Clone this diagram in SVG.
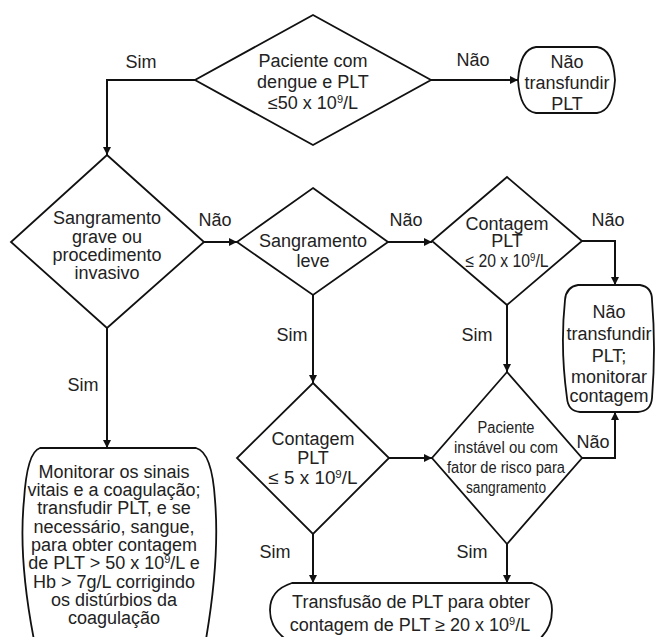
<svg xmlns="http://www.w3.org/2000/svg" width="655" height="637" viewBox="0 0 655 637">
<defs>
<marker id="ah" viewBox="0 0 10 10" refX="10" refY="5" markerWidth="9" markerHeight="8" orient="auto" markerUnits="userSpaceOnUse"><path d="M0,0 L10,5 L0,10 z" fill="#111"/></marker>
<style>
.s{fill:#fff;stroke:#111;stroke-width:1.8}
.c{fill:none;stroke:#111;stroke-width:2;marker-end:url(#ah)}
text{font-family:"Liberation Sans",Arial,sans-serif;font-size:18px;fill:#222;text-anchor:middle}
.sm{font-size:16px}
.sup{font-size:11px}
</style>
</defs>
<rect width="655" height="637" fill="#fff"/>
<g id="connectors">
<path class="c" d="M195,80 H107 V155"/>
<path class="c" d="M430,80 H518"/>
<path class="c" d="M204,242 H237"/>
<path class="c" d="M387,242 H432"/>
<path class="c" d="M582,241 H615 V285"/>
<path class="c" d="M313,295 V383"/>
<path class="c" d="M507,305 V372"/>
<path class="c" d="M107,328 V448"/>
<path class="c" d="M389,458 H432"/>
<path class="c" d="M582,458 H615 V412"/>
<path class="c" d="M313,534 V583"/>
<path class="c" d="M507,544 V583"/>
<text x="141" y="68">Sim</text>
<text x="473" y="66">Não</text>
<text x="215" y="226">Não</text>
<text x="406" y="226">Não</text>
<text x="608" y="226">Não</text>
<text x="292" y="341">Sim</text>
<text x="477" y="341">Sim</text>
<text x="83" y="391">Sim</text>
<text x="593" y="448">Não</text>
<text x="275" y="558">Sim</text>
<text x="472" y="558">Sim</text>
</g>
<g id="n1">
<polygon class="s" points="313,15 431,80 313,145 195,80"/>
<text x="313" y="67">Paciente com</text>
<text x="313" y="88">dengue e PLT</text>
<text x="313" y="109">≤50 x 10<tspan class="sup" dy="-6">9</tspan><tspan dy="6">/L</tspan></text>
</g>
<g id="n2">
<path class="s" d="M536,47 H597 Q613,49 615,80 Q613,111 597,113 H536 Q520,111 518,80 Q520,49 536,47 Z"/>
<text x="567" y="68">Não</text>
<text x="567" y="89">transfundir</text>
<text x="567" y="110">PLT</text>
</g>
<g id="n3">
<polygon class="s" points="107,155 204,242 107,328 11,242"/>
<text x="107" y="224">Sangramento</text>
<text x="107" y="243">grave ou</text>
<text x="107" y="261">procedimento</text>
<text x="107" y="279">invasivo</text>
</g>
<g id="n4">
<polygon class="s" points="313,188 388,242 313,295 237,242"/>
<text x="313" y="247">Sangramento</text>
<text x="313" y="267">leve</text>
</g>
<g id="n5">
<polygon class="s" points="507,177 582,241 507,305 432,241"/>
<text x="507" y="230">Contagem</text>
<text x="507" y="247">PLT</text>
<text x="507" y="267" textLength="83" lengthAdjust="spacingAndGlyphs">≤ 20 x 10<tspan class="sup" dy="-6">9</tspan><tspan dy="6">/L</tspan></text>
</g>
<g id="n6">
<path class="s" d="M578,285 H640 Q652,287 652,300 Q656,348 652,398 Q651,411 638,412 H580 Q568,411 567,398 Q560,348 565,300 Q566,287 578,285 Z"/>
<text x="609" y="318">Não</text>
<text x="609" y="340">transfundir</text>
<text x="609" y="362">PLT;</text>
<text x="609" y="383">monitorar</text>
<text x="609" y="402">contagem</text>
</g>
<g id="n7">
<polygon class="s" points="313,383 389,458 313,534 237,458"/>
<text x="313" y="445">Contagem</text>
<text x="313" y="464">PLT</text>
<text x="313" y="484" textLength="89" lengthAdjust="spacingAndGlyphs">≤ 5 x 10<tspan class="sup" dy="-6">9</tspan><tspan dy="6">/L</tspan></text>
</g>
<g id="n8">
<polygon class="s" points="507,372 582,458 507,544 432,458"/>
<text class="sm" x="506" y="433" textLength="57" lengthAdjust="spacingAndGlyphs">Paciente</text>
<text class="sm" x="506" y="453" textLength="104" lengthAdjust="spacingAndGlyphs">instável ou com</text>
<text class="sm" x="506" y="473" textLength="118" lengthAdjust="spacingAndGlyphs">fator de risco para</text>
<text class="sm" x="506" y="493" textLength="80" lengthAdjust="spacingAndGlyphs">sangramento</text>
</g>
<g id="n9">
<path class="s" d="M40,448 H196 Q212,452 215,500 Q220,560 205,645 H35 Q18,560 24,500 Q27,452 40,448 Z"/>
<text x="114" y="478">Monitorar os sinais</text>
<text x="114" y="496">vitais e a coagulação;</text>
<text x="114" y="514">transfudir PLT, e se</text>
<text x="114" y="533">necessário, sangue,</text>
<text x="114" y="551">para obter contagem</text>
<text x="114" y="569">de PLT &gt; 50 x 10<tspan class="sup" dy="-6">9</tspan><tspan dy="6">/L e</tspan></text>
<text x="114" y="588">Hb &gt; 7g/L corrigindo</text>
<text x="114" y="606">os distúrbios da</text>
<text x="114" y="624">coagulação</text>
</g>
<g id="n10">
<path class="s" d="M292,583 H532 Q552,590 552,610 Q552,630 536,642 H290 Q270,630 270,610 Q270,590 292,583 Z"/>
<text x="411" y="608" font-size="17.5">Transfusão de PLT para obter</text>
<text x="410" y="631" font-size="17.5">contagem de PLT ≥ 20 x 10<tspan class="sup" dy="-6">9</tspan><tspan dy="6">/L</tspan></text>
</g>
</svg>
